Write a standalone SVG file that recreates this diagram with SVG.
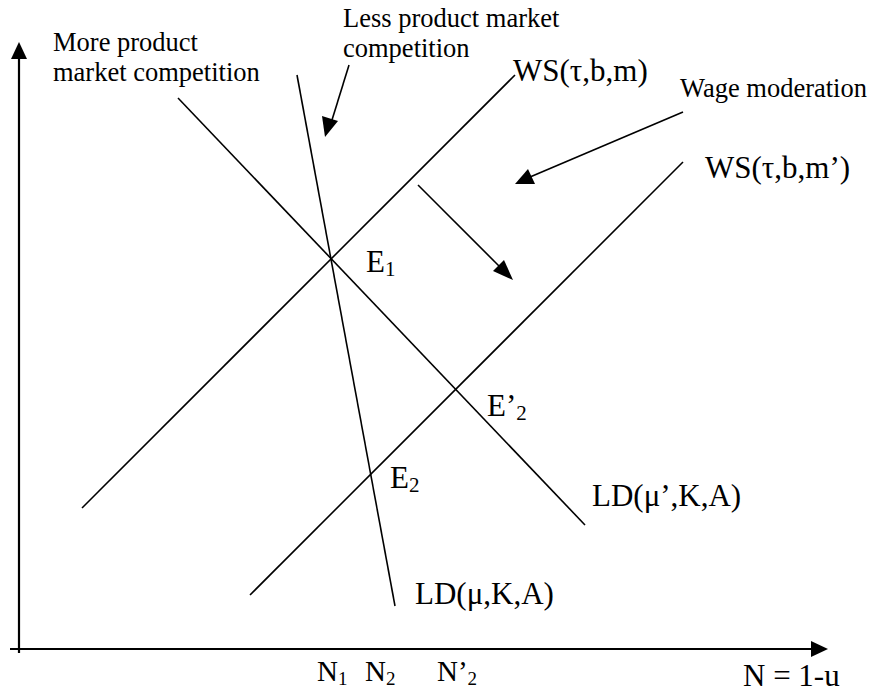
<svg xmlns="http://www.w3.org/2000/svg" width="871" height="692" viewBox="0 0 871 692">
<style>
.t{font-family:"Liberation Serif","Times New Roman",serif;font-size:26.5px;fill:#000}
.m{font-family:"Liberation Serif","Times New Roman",serif;font-size:31px;fill:#000}
.n{font-family:"Liberation Serif","Times New Roman",serif;font-size:29px;fill:#000}
.ln{stroke:#000;stroke-width:1.6;fill:none}
.ax{stroke:#000;stroke-width:2.2;fill:none}
.hd{fill:#000;stroke:none}
</style>
<rect width="871" height="692" fill="#fff"/>
<g id="axes">
<line class="ax" x1="19" y1="56" x2="19" y2="653"/>
<path class="hd" d="M19,42 L27,59 L11,59 Z"/>
<line class="ax" x1="10" y1="649" x2="812" y2="649"/>
<path class="hd" d="M828,649 L811,641 L811,657 Z"/>
</g>
<g id="curves">
<line id="ws" class="ln" x1="82" y1="508" x2="515" y2="75"/>
<line id="ws2" class="ln" x1="250" y1="595" x2="683" y2="162"/>
<line id="ld" class="ln" x1="297" y1="75" x2="395" y2="606"/>
<line id="ld2" class="ln" x1="178" y1="98" x2="585" y2="525"/>
</g>
<g id="connectors">
<line class="ln" x1="349" y1="65" x2="332" y2="120"/>
<path class="hd" d="M325,137 L322,116 L338,121 Z"/>
<line class="ln" x1="683" y1="112" x2="530" y2="177"/>
<path class="hd" d="M515,184 L528,169 L535,184 Z"/>
<line class="ln" x1="418" y1="185" x2="500" y2="267"/>
<path class="hd" d="M513,280 L493,271 L504,260 Z"/>
</g>
<g id="labels">
<text class="t" x="53" y="51">More product</text>
<text class="t" x="53" y="80.5">market competition</text>
<text class="t" x="343" y="27">Less product market</text>
<text class="t" x="343" y="57">competition</text>
<text class="m" x="513" y="81">WS(τ,b,m)</text>
<text class="t" x="680" y="97">Wage moderation</text>
<text class="m" x="705" y="178">WS(τ,b,m’)</text>
<text class="m" x="366" y="272">E<tspan font-size="21" dy="4">1</tspan></text>
<text class="m" x="487" y="416">E’<tspan font-size="21" dy="4">2</tspan></text>
<text class="m" x="390" y="488">E<tspan font-size="21" dy="4">2</tspan></text>
<text class="m" x="592" y="506">LD(μ’,K,A)</text>
<text class="m" x="415" y="604">LD(μ,K,A)</text>
<text class="n" x="317" y="681">N<tspan font-size="19" dy="4">1</tspan></text>
<text class="n" x="365" y="681">N<tspan font-size="19" dy="4">2</tspan></text>
<text class="n" x="437" y="681">N’<tspan font-size="19" dy="4">2</tspan></text>
<text class="m" x="743" y="686">N = 1-u</text>
</g>
</svg>
